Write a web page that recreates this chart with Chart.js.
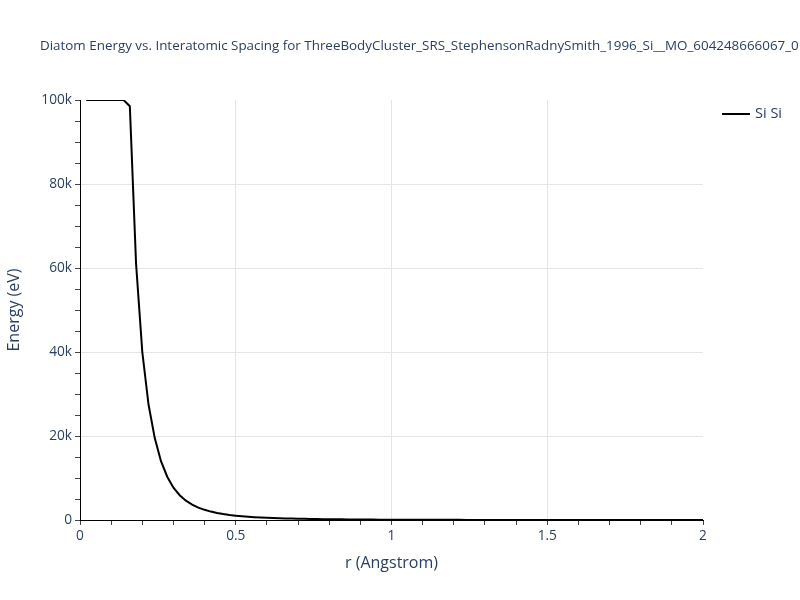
<!DOCTYPE html>
<html>
<head>
<meta charset="utf-8">
<script src="https://cdn.jsdelivr.net/npm/chart.js@4"></script>
<style>
  html, body { margin: 0; padding: 0; background: #fff; }
  #wrap { width: 800px; height: 600px; }
</style>
</head>
<body>
<div id="wrap"><canvas id="c" width="800" height="600"></canvas></div>
<script>
const chartTitle = "Diatom Energy vs. Interatomic Spacing for ThreeBodyCluster_SRS_StephensonRadnySmith_1996_Si__MO_604248666067_0";
const seriesName = "Si Si";
const xTitle = "r (Angstrom)";
const yTitle = "Energy (eV)";

const rValues = [
  0.02, 0.04, 0.06, 0.08, 0.10, 0.12, 0.14, 0.16, 0.18, 0.20,
  0.22, 0.24, 0.26, 0.28, 0.30, 0.32, 0.34, 0.36, 0.38, 0.40,
  0.42, 0.44, 0.46, 0.48, 0.50, 0.52, 0.54, 0.56, 0.58, 0.60,
  0.62, 0.64, 0.66, 0.68, 0.70, 0.72, 0.74, 0.76, 0.78, 0.80,
  0.82, 0.84, 0.86, 0.88, 0.90, 0.92, 0.94, 0.96, 0.98, 1.00,
  1.02, 1.04, 1.06, 1.08, 1.10, 1.12, 1.14, 1.16, 1.18, 1.20,
  1.22, 1.24, 1.26, 1.28, 1.30, 1.32, 1.34, 1.36, 1.38, 1.40,
  1.42, 1.44, 1.46, 1.48, 1.50, 1.52, 1.54, 1.56, 1.58, 1.60,
  1.62, 1.64, 1.66, 1.68, 1.70, 1.72, 1.74, 1.76, 1.78, 1.80,
  1.82, 1.84, 1.86, 1.88, 1.90, 1.92, 1.94, 1.96, 1.98, 2.00
];

const energySiSi = [
  100000, 100000, 100000, 100000, 100000, 100000, 100000, 98500, 61000, 40000,
  27500, 19500, 14000, 10300, 7700, 5900, 4600, 3650, 2950, 2420,
  2000, 1680, 1420, 1210, 1040, 900, 780, 680, 600, 530,
  470, 420, 375, 335, 300, 270, 245, 220, 200, 180,
  165, 150, 137, 125, 114, 104, 95, 87, 80, 73,
  67, 62, 57, 52, 48, 44, 41, 38, 35, 32,
  30, 28, 26, 24, 22, 20, 19, 18, 16, 15,
  14, 13, 12, 11, 10.5, 10, 9.5, 9, 8.5, 8,
  7.5, 7, 6.6, 6.2, 5.8, 5.4, 5, 4.7, 4.4, 4.1,
  3.8, 3.5, 3.2, 3, 2.8, 2.6, 2.4, 2.2, 2, 1.8
];

const xTickLabels = ["0", "0.5", "1", "1.5", "2"];
const yTickLabels = ["0", "20k", "40k", "60k", "80k", "100k"];

const FONT = "'Open Sans', 'Liberation Sans', sans-serif";
const TXT = "#2a3f5f";
const GRID = "#e5e5e5";
const TICK = "#444";

function isMult(v, step) {
  const q = v / step;
  return Math.abs(q - Math.round(q)) < 1e-6;
}

const textPlugin = {
  id: 'texts',
  afterDraw(chart) {
    const ctx = chart.ctx;
    const area = chart.chartArea;
    ctx.save();
    ctx.fillStyle = TXT;
    // title
    ctx.font = "13.4px " + FONT;
    ctx.textAlign = 'left';
    ctx.textBaseline = 'middle';
    ctx.fillText(chartTitle, 40, 46);
    // x axis title
    ctx.font = "16px " + FONT;
    ctx.textAlign = 'center';
    ctx.fillText(xTitle, (area.left + area.right) / 2, 563);
    // y axis title
    ctx.save();
    ctx.translate(14, (area.top + area.bottom) / 2);
    ctx.rotate(-Math.PI / 2);
    ctx.fillText(yTitle, 0, 0);
    ctx.restore();
    // legend
    ctx.strokeStyle = '#000';
    ctx.lineWidth = 2;
    ctx.beginPath();
    ctx.moveTo(722, 114);
    ctx.lineTo(750, 114);
    ctx.stroke();
    ctx.font = "14.5px " + FONT;
    ctx.textAlign = 'left';
    ctx.fillText(seriesName, 755, 114);
    ctx.restore();
  }
};

const bgPlugin = {
  id: 'bg',
  beforeDraw(chart) {
    const ctx = chart.ctx;
    ctx.save();
    ctx.fillStyle = '#fff';
    ctx.fillRect(0, 0, chart.width, chart.height);
    ctx.restore();
  }
};

new Chart(document.getElementById('c'), {
  type: 'line',
  data: {
    datasets: [{
      label: seriesName,
      data: rValues.map((r, i) => ({ x: r, y: energySiSi[i] })),
      borderColor: '#000',
      borderWidth: 2,
      pointRadius: 0,
      tension: 0,
      fill: false
    }]
  },
  options: {
    responsive: false,
    animation: false,
    devicePixelRatio: 1,
    layout: { padding: { left: 0, top: 100, right: 97, bottom: 0 } },
    plugins: {
      legend: { display: false },
      title: { display: false },
      tooltip: { enabled: false }
    },
    scales: {
      x: {
        type: 'linear',
        min: 0,
        max: 2,
        afterFit(scale) { scale.height = 80; },
        border: { display: true, color: '#000', width: 1 },
        grid: {
          drawOnChartArea: true,
          tickLength: 5,
          color(ctx) {
            const v = ctx.tick ? ctx.tick.value : 0;
            return (isMult(v, 0.5) && v > 0.01 && v < 1.99) ? GRID : 'rgba(0,0,0,0)';
          },
          tickColor: TICK
        },
        ticks: {
          stepSize: 0.1,
          autoSkip: false,
          maxRotation: 0,
          padding: 3,
          color: TXT,
          font: { family: FONT, size: 13.7 },
          callback(v) {
            if (!isMult(v, 0.5)) return '';
            return xTickLabels[Math.round(v / 0.5)];
          }
        }
      },
      y: {
        type: 'linear',
        min: 0,
        max: 100000,
        afterFit(scale) { scale.width = 80; },
        border: { display: true, color: '#000', width: 1 },
        grid: {
          drawOnChartArea: true,
          tickLength: 5,
          color(ctx) {
            const v = ctx.tick ? ctx.tick.value : 0;
            return (isMult(v, 20000) && v > 1 && v < 99999) ? GRID : 'rgba(0,0,0,0)';
          },
          tickColor: TICK
        },
        ticks: {
          stepSize: 5000,
          autoSkip: false,
          padding: 3,
          color: TXT,
          font: { family: FONT, size: 13.7 },
          callback(v) {
            if (!isMult(v, 20000)) return '';
            return yTickLabels[Math.round(v / 20000)];
          }
        }
      }
    }
  },
  plugins: [bgPlugin, textPlugin]
});
</script>
</body>
</html>
